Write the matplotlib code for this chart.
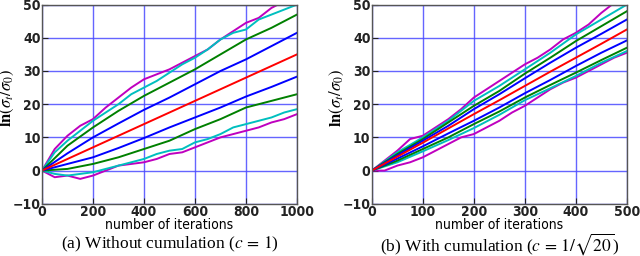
import matplotlib
matplotlib.use("Agg")
import matplotlib.pyplot as plt

plt.rcParams['mathtext.fontset'] = 'stix'

# ---------------- Panel (a): without cumulation ----------------
a_t50 = [0, 50, 100, 150, 200, 250, 300, 350, 400, 450, 500, 550, 600, 650, 700,
         750, 800, 850, 900, 950, 1000]
a_mag_up = [0, 6.5, 10.5, 13.5, 15.5, 19, 22, 25, 27.5, 29, 30.5, 32.5, 34.5, 36.5,
            39.5, 42, 44.5, 46, 49, 51, 53]
a_cyan_up = [0, 5.5, 9, 12, 15, 17.5, 20, 23, 25, 27, 29.5, 32, 34, 36.5, 39.5,
             41.5, 42.5, 45.5, 47, 48.5, 50]
a_cyan_lo = [0, -1, -1.5, -1, -0.5, 0.5, 1.5, 2.5, 3.5, 5, 6, 6.5, 8.5, 9.5, 11,
             13, 14, 15, 16, 17.5, 18.5]
a_mag_lo = [0, -2, -1.5, -2.5, -1.5, 0, 1.5, 2, 2.5, 3.5, 5, 5.5, 7, 8.5, 10, 11,
            12, 13, 14.5, 15.5, 17]

a_t100 = [0, 100, 200, 300, 400, 500, 600, 700, 800, 900, 1000]
a_green_up = [0, 7.5, 13, 18, 22.5, 26.5, 30.5, 35, 39.5, 43, 47]
a_blue_up = [0, 5.2, 10, 14.2, 18.3, 22, 26, 30, 33.5, 37.5, 41.5]
a_red = [0, 3.5, 7, 10.5, 14, 17.5, 21, 24.5, 28, 31.5, 35]
a_blue_lo = [0, 2, 4, 6.8, 9.8, 13, 16, 19, 22.3, 25.2, 28.3]
a_green_lo = [0, 0.5, 2, 4, 6.5, 9, 12.5, 15.5, 19, 21, 23]

# ---------------- Panel (b): with cumulation ----------------
b_t25 = [0, 25, 50, 75, 100, 125, 150, 175, 200, 225, 250, 275, 300, 325, 350,
         375, 400, 425, 450, 475, 500]
b_mag_up = [0, 3, 6, 9.5, 10.5, 13, 15.5, 18.5, 22, 24.5, 27, 29.5, 32, 34, 36.5,
            39.5, 41.5, 44, 47.5, 50.5, 53]
b_mag_lo = [0, 0, 1.5, 2.5, 4, 6, 8, 10, 11, 13, 15, 17.5, 19.5, 22, 24.5, 26.5,
            28, 30, 32, 34, 35.5]

b_t50 = [0, 50, 100, 150, 200, 250, 300, 350, 400, 450, 500]
b_cyan_up = [0, 5.5, 10, 15, 21, 25.5, 30.5, 35.5, 41, 45.5, 50]
b_green_up = [0, 5, 9.5, 14.5, 19.5, 24, 29.2, 34, 39, 43.5, 48]
b_blue_up = [0, 4.6, 9, 13.5, 18.5, 23, 27.8, 32.5, 37, 41.2, 45.5]
b_red = [0, 4.2, 8.4, 12.7, 17, 21.2, 25.5, 29.8, 34, 38.2, 42.5]
b_blue_lo = [0, 3.6, 7.3, 11.2, 15, 19, 23.3, 27.3, 31.5, 35.5, 39.2]
b_green_lo = [0, 3, 6.5, 10, 14, 17.8, 22, 25.8, 29.5, 33.3, 37]
b_cyan_lo = [0, 2.5, 5.8, 9.2, 12.8, 16.8, 21.2, 24.8, 28.5, 32.5, 36]

y_ticks = [-10, 0, 10, 20, 30, 40, 50]
a_xticks = [0, 200, 400, 600, 800, 1000]
b_xticks = [0, 100, 200, 300, 400, 500]
captions = ["(a) Without cumulation ($c\\,=\\,1$)",
            "(b) With cumulation ($c\\,=\\,1/\\sqrt{20}$)"]

MAG, CYAN, GREEN, BLUE, RED = '#bf00bf', '#00bfbf', '#008000', '#0000ff', '#ff0000'

fig = plt.figure(figsize=(6.4, 2.56), dpi=100)
ax1 = fig.add_axes([0.0656, 0.204, 0.3984, 0.778])
ax2 = fig.add_axes([0.581, 0.204, 0.3984, 0.778])

lw = 1.4
ax1.plot(a_t50, a_mag_up, color=MAG, lw=lw)
ax1.plot(a_t50, a_mag_lo, color=MAG, lw=lw)
ax1.plot(a_t50, a_cyan_up, color=CYAN, lw=lw)
ax1.plot(a_t50, a_cyan_lo, color=CYAN, lw=lw)
ax1.plot(a_t100, a_green_up, color=GREEN, lw=lw)
ax1.plot(a_t100, a_green_lo, color=GREEN, lw=lw)
ax1.plot(a_t100, a_blue_up, color=BLUE, lw=lw)
ax1.plot(a_t100, a_blue_lo, color=BLUE, lw=lw)
ax1.plot(a_t100, a_red, color=RED, lw=lw)

ax2.plot(b_t25, b_mag_up, color=MAG, lw=lw)
ax2.plot(b_t25, b_mag_lo, color=MAG, lw=lw)
ax2.plot(b_t50, b_cyan_up, color=CYAN, lw=lw)
ax2.plot(b_t50, b_cyan_lo, color=CYAN, lw=lw)
ax2.plot(b_t50, b_green_up, color=GREEN, lw=lw)
ax2.plot(b_t50, b_green_lo, color=GREEN, lw=lw)
ax2.plot(b_t50, b_blue_up, color=BLUE, lw=lw)
ax2.plot(b_t50, b_blue_lo, color=BLUE, lw=lw)
ax2.plot(b_t50, b_red, color=RED, lw=lw)

for ax, xt, xmax, cap in [(ax1, a_xticks, 1000, captions[0]),
                          (ax2, b_xticks, 500, captions[1])]:
    ax.set_xlim(0, xmax)
    ax.set_ylim(-10, 50)
    ax.set_xticks(xt)
    ax.set_yticks(y_ticks)
    ax.set_xticklabels([str(v) for v in xt], fontweight='bold', fontsize=10,
                       fontstretch='condensed')
    ax.set_yticklabels([("\u2212" + str(-v)) if v < 0 else str(v) for v in y_ticks],
                       fontweight='bold', fontsize=10, fontstretch='condensed')
    ax.tick_params(direction='in', length=4, width=0.8, pad=1, colors='#222222')
    ax.grid(True, color='#4a4aff', lw=1.0, alpha=0.85)
    ax.set_axisbelow(True)
    for s in ax.spines.values():
        s.set_color('#555555')
        s.set_linewidth(1.0)
    ax.set_xlabel('number of iterations', fontsize=10, labelpad=-1,
                  fontstretch='condensed')
    ax.set_ylabel(r'$\mathbf{ln}(\sigma_t/\sigma_0)$', fontsize=12)
    ax.yaxis.set_label_coords(-0.102, 0.53)
    bb = ax.get_position()
    fig.text((bb.x0 + bb.x1) / 2, 1 - 244 / 256, cap, ha='center', va='center',
             fontsize=12.5, family='Liberation Serif')

fig.savefig('out.png', dpi=100)
